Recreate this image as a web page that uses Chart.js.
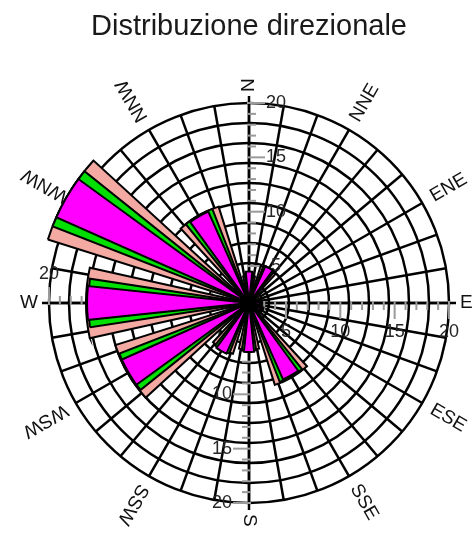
<!DOCTYPE html>
<html>
<head>
<meta charset="utf-8">
<title>Distribuzione direzionale</title>
<script src="https://cdn.jsdelivr.net/npm/chart.js@4/dist/chart.umd.min.js"></script>
<style>
  html, body { margin: 0; padding: 0; background: #ffffff; }
  #rose { display: block; }
</style>
</head>
<body>
<canvas id="rose" width="472" height="534"></canvas>
<script>
// Compass sectors, one every 30 degrees clockwise from north
const directions = ['N', 'NNE', 'ENE', 'E', 'ESE', 'SSE', 'S', 'SSW', 'WSW', 'W', 'WNW', 'NNW'];

// Frequency per sector for the three classes (narrow magenta, green, wide pink)
const classMagenta = [4.5, 5.3, 2.4, 2.6, 2.8, 9.3, 6.1, 6.7, 14.4, 16.5, 21.0, 10.8];
const classGreen   = [4.3, 5.3, 2.6, 2.6, 2.9, 9.4, 6.0, 6.6, 14.4, 16.4, 21.0, 10.9];
const classPink    = [4.1, 5.2, 2.8, 2.7, 3.0, 9.5, 5.9, 6.5, 14.5, 16.6, 21.0, 10.9];

// Labelled values on the four main axes
const tickValues = [5, 10, 15, 20];
const westTickValues = [20];

// Radial axis range and ring count
const axisMin = 1.6;
const axisMax = 20;
const ringCount = 10;

// Angular layout (degrees)
const sectorStep = 30;
const spokeStep = 10;
const widthMagenta = 12;
const widthGreen = 17.4;
const widthPink = 25;

// 36 spokes; compass names on every third one
const spokeLabels = [];
for (let a = 0; a < 360; a += spokeStep) {
  const k = a / sectorStep;
  spokeLabels.push(Number.isInteger(k) ? directions[k] : '');
}

// Each class becomes a chain of arcs: leading gap, then bar / gap / bar ...
function sectorData(values) {
  const out = [axisMin];
  values.forEach((v, k) => {
    out.push(v);
    if (k < values.length - 1) out.push(axisMin);
  });
  return out;
}
function sectorAngles(width) {
  const out = [360 - width / 2];
  for (let k = 0; k < directions.length; k++) {
    out.push(width);
    if (k < directions.length - 1) out.push(sectorStep - width);
  }
  return out;
}
function classDataset(values, width, color) {
  const angles = sectorAngles(width);
  return {
    data: sectorData(values),
    angle: ctx => angles[ctx.dataIndex],
    backgroundColor: ctx => (ctx.dataIndex % 2 ? color : 'rgba(0,0,0,0)'),
    borderColor: '#000000',
    borderWidth: ctx => (ctx.dataIndex % 2 ? 2 : 0),
    borderJoinStyle: 'miter',
    clip: false
  };
}

const FONT = '"Liberation Sans", Arial, Helvetica, sans-serif';

// Axis extensions, tick ruler, value labels and compass names
const roseDecor = {
  id: 'roseDecor',
  beforeDatasetsDraw(chart) {
    const s = chart.scales.r;
    const ctx = chart.ctx;
    const cx = s.xCenter, cy = s.yCenter;
    ctx.save();
    // the four main axes reach a little past the outer ring
    ctx.strokeStyle = '#000';
    ctx.lineWidth = 2.5;
    [0, 9, 18, 27].forEach(i => {
      const p = s.getPointPosition(i, s.drawingArea + 7);
      ctx.beginPath();
      ctx.moveTo(cx, cy);
      ctx.lineTo(p.x, p.y);
      ctx.stroke();
    });
    // ruler ticks: [spoke index, perpendicular x, perpendicular y]
    const sides = [[0, 1, 0], [9, 0, 1], [18, -1, 0], [27, 0, -1]];
    ctx.strokeStyle = '#9a9a9a';
    ctx.lineWidth = 2;
    sides.forEach(([i, px, py]) => {
      for (let v = 2; v <= axisMax; v++) {
        const p = s.getPointPositionForValue(i, v);
        const len = v % 5 === 0 ? 16 : 7;
        ctx.beginPath();
        ctx.moveTo(p.x - px * 2, p.y - py * 2);
        ctx.lineTo(p.x + px * len, p.y + py * len);
        ctx.stroke();
      }
    });
    // value labels
    ctx.font = '18px ' + FONT;
    ctx.fillStyle = '#262626';
    ctx.textAlign = 'center';
    ctx.textBaseline = 'middle';
    sides.forEach(([i, px, py]) => {
      const list = i === 27 ? westTickValues : tickValues;
      list.forEach(v => {
        const p = s.getPointPositionForValue(i, v);
        const off = py !== 0 ? 29 : 27;
        ctx.fillText(String(v), p.x + px * off, p.y + py * off);
      });
    });
    ctx.restore();
  },
  afterDatasetsDraw(chart) {
    const s = chart.scales.r;
    const ctx = chart.ctx;
    ctx.save();
    ctx.font = '19px ' + FONT;
    ctx.fillStyle = '#111';
    ctx.textBaseline = 'middle';
    directions.forEach((name, k) => {
      const idx = k * (sectorStep / spokeStep);
      const p = s.getPointPosition(idx, s.drawingArea + 11);
      ctx.save();
      ctx.translate(p.x, p.y);
      if (name === 'W') {
        ctx.textAlign = 'right';
      } else {
        ctx.rotate(s.getIndexAngle(idx) - Math.PI / 2);
        ctx.textAlign = 'left';
      }
      ctx.fillText(name, 0, 0);
      ctx.restore();
    });
    ctx.restore();
  }
};

new Chart(document.getElementById('rose'), {
  type: 'polarArea',
  data: {
    labels: spokeLabels,
    datasets: [
      classDataset(classMagenta, widthMagenta, '#ff00ff'),
      classDataset(classGreen, widthGreen, '#00e000'),
      classDataset(classPink, widthPink, '#f4a9a3')
    ]
  },
  options: {
    responsive: false,
    animation: false,
    events: [],
    layout: { padding: { top: 0, left: 49, right: 23, bottom: 30 } },
    plugins: {
      legend: { display: false },
      tooltip: { enabled: false },
      title: {
        display: true,
        text: 'Distribuzione direzionale',
        color: '#1a1a1a',
        font: { family: FONT, size: 29, weight: 'normal' },
        padding: { top: 10, bottom: 59 }
      }
    },
    scales: {
      r: {
        min: axisMin,
        max: axisMax,
        startAngle: 0,
        afterBuildTicks: scale => {
          const step = (axisMax - axisMin) / ringCount;
          const t = [];
          for (let k = 0; k <= ringCount; k++) t.push({ value: axisMin + k * step });
          scale.ticks = t;
        },
        ticks: { display: false },
        pointLabels: { display: false },
        grid: { circular: true, color: '#000', lineWidth: 2.5 },
        angleLines: { display: true, color: '#000', lineWidth: 2.5 }
      }
    }
  },
  plugins: [roseDecor]
});
</script>
</body>
</html>
